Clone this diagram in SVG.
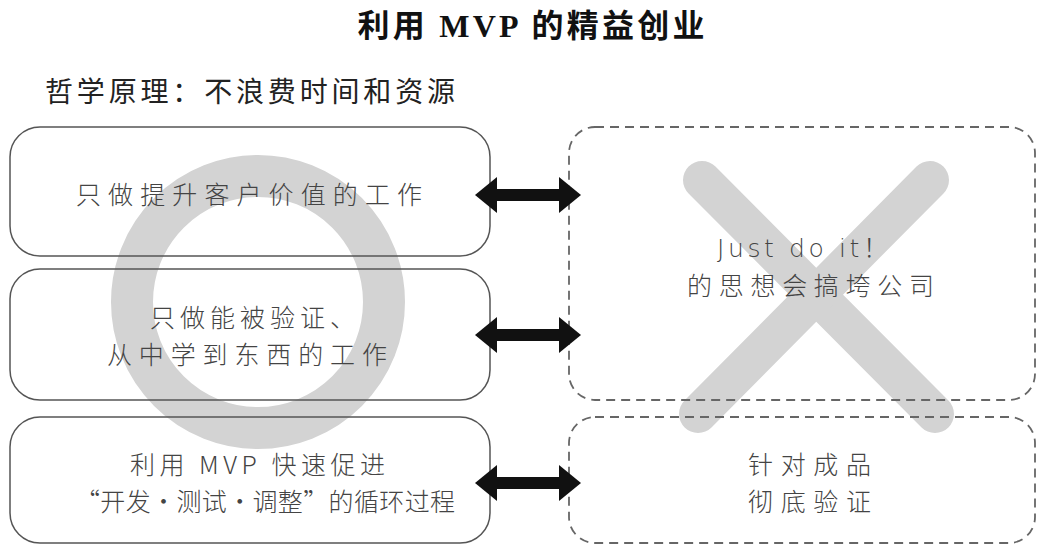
<svg xmlns="http://www.w3.org/2000/svg" width="1042" height="546" viewBox="0 0 1042 546">
  <style>
    .title { font-family: "Liberation Serif", "Noto Sans CJK SC", serif; font-weight: bold; font-size: 32px; fill: #111; }
    .sub { font-family: "Noto Sans CJK SC", sans-serif; font-size: 28px; fill: #222; }
    .txt { font-family: "Noto Sans CJK SC", sans-serif; font-weight: 300; font-size: 25px; fill: #444; }
    .lat { font-family: "DejaVu Sans", "Noto Sans CJK SC", sans-serif; font-weight: 300; font-size: 25px; fill: #444; }
    .solid { fill: none; stroke: #555; stroke-width: 1.5; }
    .dash { fill: none; stroke: #666; stroke-width: 1.8; stroke-dasharray: 9 6; }
    .mark { fill: none; stroke: #d3d3d3; stroke-linecap: round; }
    .conn { stroke: #111; stroke-width: 12; marker-start: url(#head); marker-end: url(#head); }
  </style>
  <defs>
    <marker id="head" markerUnits="userSpaceOnUse" markerWidth="22" markerHeight="36" refX="0" refY="18" orient="auto-start-reverse" viewBox="0 0 22 36">
      <path d="M0,0 L22,18 L0,36 Z" fill="#111"/>
    </marker>
  </defs>
  <rect width="1042" height="546" fill="#fff"/>

  <g id="marks">
    <circle class="mark" cx="258" cy="302" r="126" stroke-width="42"/>
    <line class="mark" x1="702" y1="180" x2="935" y2="414" stroke-width="38"/>
    <line class="mark" x1="930" y1="180" x2="698" y2="414" stroke-width="38"/>
  </g>

  <text class="title" x="531" y="37" text-anchor="middle" textLength="347" lengthAdjust="spacing">利用 MVP 的精益创业</text>
  <text class="sub" x="45" y="102" textLength="410" lengthAdjust="spacing">哲学原理：不浪费时间和资源</text>

  <g id="left1">
    <rect class="solid" x="10" y="127" width="480" height="129" rx="30"/>
    <text class="txt" x="76" y="204" textLength="346" lengthAdjust="spacing">只做提升客户价值的工作</text>
  </g>
  <g id="left2">
    <rect class="solid" x="10" y="269" width="480" height="131" rx="30"/>
    <text class="txt" x="150" y="327" textLength="205" lengthAdjust="spacing">只做能被验证、</text>
    <text class="txt" x="107" y="364" textLength="280" lengthAdjust="spacing">从中学到东西的工作</text>
  </g>
  <g id="left3">
    <rect class="solid" x="10" y="417" width="480" height="126" rx="30"/>
    <text class="txt" x="130" y="474" textLength="255" lengthAdjust="spacing">利用 MVP 快速促进</text>
    <text class="txt" x="75" y="511" textLength="380" lengthAdjust="spacing">“开发・测试・调整”的循环过程</text>
  </g>
  <g id="right1">
    <rect class="dash" x="569" y="127" width="466" height="273" rx="26"/>
    <text class="lat" x="717" y="257" textLength="171" lengthAdjust="spacing">Just do it！</text>
    <text class="txt" x="687" y="295" textLength="247" lengthAdjust="spacing">的思想会搞垮公司</text>
  </g>
  <g id="right2">
    <rect class="dash" x="569" y="417" width="466" height="126" rx="26"/>
    <text class="txt" x="748" y="474" textLength="123" lengthAdjust="spacing">针对成品</text>
    <text class="txt" x="748" y="511" textLength="123" lengthAdjust="spacing">彻底验证</text>
  </g>

  <g id="connectors">
    <line class="conn" x1="497" y1="195" x2="559" y2="195"/>
    <line class="conn" x1="497" y1="335" x2="559" y2="335"/>
    <line class="conn" x1="497" y1="483" x2="559" y2="483"/>
  </g>
</svg>
